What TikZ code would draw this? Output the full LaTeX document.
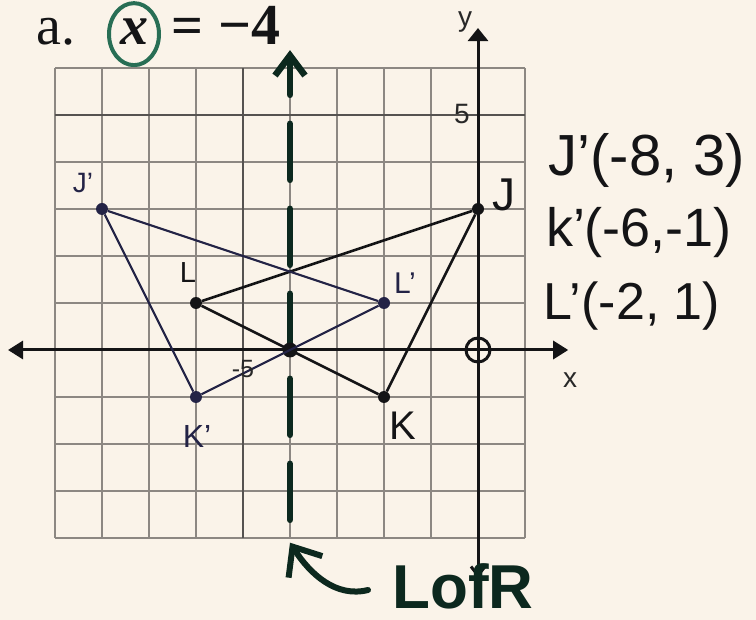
\documentclass[tikz,border=0pt]{standalone}
\usepackage{fontspec}
\setmainfont{Liberation Serif}
\setsansfont{Liberation Sans}
\usetikzlibrary{arrows.meta}
\definecolor{paper}{RGB}{250,243,233}
\definecolor{gridc}{RGB}{140,135,130}
\definecolor{gridh}{RGB}{85,82,80}
\definecolor{ink}{RGB}{20,20,22}
\definecolor{navy}{RGB}{35,35,70}
\definecolor{dgreen}{RGB}{12,40,30}
\definecolor{cgreen}{RGB}{40,110,85}
\definecolor{labelc}{RGB}{40,40,40}
\begin{document}
\begin{tikzpicture}[x=1pt,y=-1pt,
  gridline/.style={line width=1.5pt, draw=gridc},
  gridheavy/.style={line width=2.6pt, draw=gridh},
  axisline/.style={line width=3pt, draw=ink},
  origline/.style={line width=2.6pt, draw=ink},
  imgline/.style={line width=2.2pt, draw=navy},
  vdot/.style={circle, fill=#1, inner sep=0pt, minimum size=12pt},
  hand/.style={font=\sffamily\fontsize{#1}{#1}\selectfont, inner sep=0pt, text=ink},
  printed/.style={font=\sffamily\fontsize{#1}{#1}\selectfont, inner sep=0pt, text=labelc},
  titlefont/.style={font=\fontsize{56}{56}\selectfont, inner sep=0pt, text=ink},
  mirrorline/.style={line width=6.5pt, draw=dgreen, line cap=round,
     dash pattern=on 56pt off 29pt, dash phase=20pt},
  curvearrow/.style={line width=6pt, draw=dgreen, line cap=round}
]
\fill[paper] (0,0) rectangle (756,620);
\useasboundingbox (0,0) rectangle (756,620);

% ---------- title ----------
\node[titlefont, anchor=base west] (ta) at (36,45) {a.};
\node[titlefont, font=\fontsize{56}{56}\selectfont\bfseries\itshape, anchor=base] (tx) at (134,45) {x};
\node[titlefont, font=\fontsize{56}{56}\selectfont\bfseries, anchor=base] (teq) at (187,45) {=};
\node[titlefont, font=\fontsize{58}{58}\selectfont\bfseries, anchor=base west] (tm) at (218,45) {−4};
\draw[cgreen, line width=4pt] ([yshift=-2pt]tx.center) ellipse [x radius=25pt, y radius=31pt];

% ---------- graph ----------
\begin{scope}[shift={(478,350)}, x=47pt, y=47pt]
  \foreach \i in {-9,...,1} \draw[gridline] (\i,-4) -- (\i,6);
  \foreach \j in {-4,...,6} \draw[gridline] (-9,\j) -- (1,\j);
  \draw[gridheavy] (-5,-4) -- (-5,6);
  \draw[gridheavy] (-9,5) -- (1,5);

  \coordinate (xl) at (-10.0,0);
  \coordinate (xr) at (1.92,0);
  \coordinate (yt) at (0,6.85);
  \coordinate (yb) at (0,-4.85);
  \draw[axisline, {Triangle[length=15pt,width=18pt]}-{Triangle[length=15pt,width=18pt]}] (xl) -- (xr);
  \draw[axisline, {Straight Barb[length=9pt,width=14pt]}-{Triangle[length=13pt,width=20pt]}] (yb) -- (yt);
  \node[draw=ink, line width=3pt, circle, minimum size=24pt, inner sep=0pt] (O) at (0,0) {};

  % mirror line x = -4
  \coordinate (mt) at (-4,6.38);
  \coordinate (mb) at (-4,-4.1);
  \draw[mirrorline, {Straight Barb[length=20pt,width=30pt]}-] (mt) -- (mb);

  % points
  \node[vdot=ink] (J) at (0,3) {};
  \node[vdot=ink] (K) at (-2,-1) {};
  \node[vdot=ink] (L) at (-6,1) {};
  \node[vdot=navy] (J1) at (-8,3) {};
  \node[vdot=navy] (K1) at (-6,-1) {};
  \node[vdot=navy] (L1) at (-2,1) {};
  \node[vdot=ink, minimum size=15pt] (M) at (-4,0) {};

  \draw[origline] (J) -- (L);
  \draw[origline] (L) -- (K);
  \draw[origline] (K) -- (J);
  \draw[imgline] (J1) -- (L1);
  \draw[imgline] (J1) -- (K1);
  \draw[imgline] (K1) -- (L1);
\end{scope}

% ---------- printed labels ----------
\node[printed=28] (ylab) at (465,22) {y};
\node[printed=28] (xlab) at (570,380) {x};
\node[printed=28] (five) at (462,114) {5};
\node[printed=25] (mfive) at (243,369) {-5};

% ---------- handwritten labels ----------
\node[hand=28, text=navy] (lJ1) at (83,183) {J'};
\node[hand=29] (lL) at (188,273) {L};
\node[hand=30, text=navy] (lL1) at (405,283) {L'};
\node[hand=46] (lJ) at (504,195) {J};
\node[hand=40] (lK) at (403,426) {K};
\node[hand=32, text=navy] (lK1) at (197,436) {K'};

\node[hand=58] (cJ) at (647,160) {J'(-8, 3)};
\node[hand=54] (cK) at (639,233) {k'(-6,-1)};
\node[hand=52] (cL) at (632,306) {L'(-2, 1)};

% ---------- LofR ----------
\node[font=\sffamily\fontsize{62}{62}\selectfont\bfseries, text=dgreen, inner sep=0pt] (lofr) at (463,586) {LofR};
\coordinate (cs) at (368,590);
\draw[curvearrow, -{Straight Barb[length=24pt,width=40pt]}] (cs) .. controls (336,598) and (310,574) .. (mb);
\end{tikzpicture}
\end{document}
